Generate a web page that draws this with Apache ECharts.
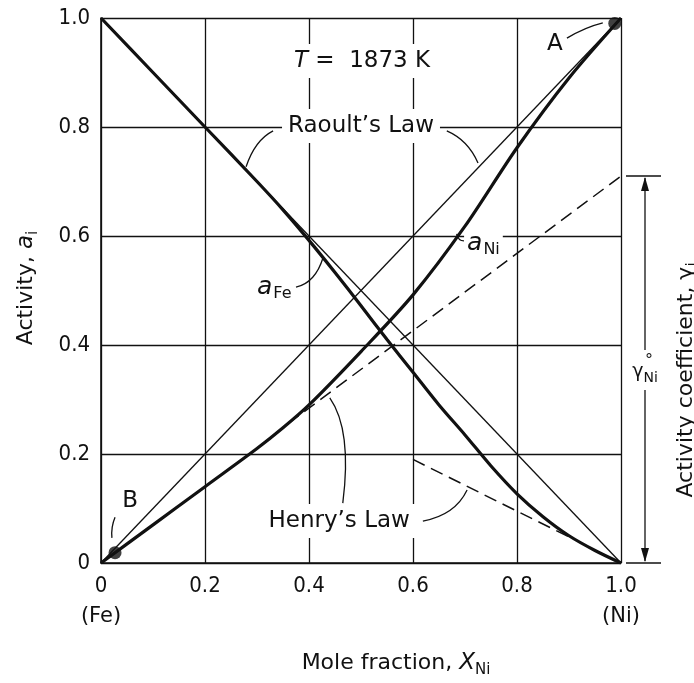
<!DOCTYPE html>
<html>
<head>
<meta charset="utf-8">
<script src="https://cdn.jsdelivr.net/npm/echarts@6/dist/echarts.min.js"></script>
<style>
  html, body { margin: 0; padding: 0; background: #fff; }
  #chart { width: 694px; height: 683px; }
</style>
</head>
<body>
<div id="chart"></div>
<script>
// Fe–Ni activities at 1873 K
const xTickLabels = ['0', '0.2', '0.4', '0.6', '0.8', '1.0'];
const yTickLabels = ['0', '0.2', '0.4', '0.6', '0.8', '1.0'];

// Raoult's law reference lines
const raoultFe = [[0, 1], [1, 0]];
const raoultNi = [[0, 0], [1, 1]];

// measured activities (x = X_Ni)
const activityFe = [[0, 1], [0.1, 0.9], [0.2, 0.8], [0.3, 0.7], [0.35, 0.648], [0.4, 0.592],
  [0.45, 0.533], [0.5, 0.472], [0.55, 0.41], [0.6, 0.35], [0.65, 0.29], [0.7, 0.235],
  [0.75, 0.178], [0.8, 0.127], [0.85, 0.085], [0.9, 0.05], [0.95, 0.023], [1, 0]];
const activityNi = [[0, 0], [0.1, 0.07], [0.2, 0.14], [0.3, 0.21], [0.35, 0.248], [0.4, 0.29],
  [0.5, 0.388], [0.6, 0.492], [0.7, 0.618], [0.8, 0.762], [0.9, 0.89], [1, 1]];

// Henry's law lines
const henryNi = [[0.36, 0.256], [1.0, 0.71]];
const henryFe = [[0.6, 0.19], [0.91, 0.043]];

// reference states A (pure Ni) and B (dilute Ni)
const pointA = [0.988, 0.99];
const pointB = [0.027, 0.019];

const INK = '#111';
const FONT = "'DejaVu Sans', sans-serif";
const TICK_FONT = "'Liberation Sans Narrow', 'DejaVu Sans Condensed', 'Liberation Sans', sans-serif";

const chart = echarts.init(document.getElementById('chart'), null, { renderer: 'canvas' });

const axisCommon = {
  type: 'value', min: 0, max: 1, interval: 0.2,
  axisLine: { show: true, lineStyle: { color: INK, width: 1.6 } },
  axisTick: { show: false },
  splitLine: { show: true, lineStyle: { color: INK, width: 1.3 } },
};

chart.setOption({
  animation: false,
  backgroundColor: '#fff',
  grid: { left: 101, right: 73, top: 18, bottom: 120 },
  xAxis: Object.assign({}, axisCommon, {
    axisLabel: { margin: 12, color: INK, fontSize: 22, fontFamily: TICK_FONT,
      formatter: (v) => xTickLabels[Math.round(v / 0.2)] }
  }),
  yAxis: Object.assign({}, axisCommon, {
    axisLabel: { margin: 11, color: INK, fontSize: 22, fontFamily: TICK_FONT,
      formatter: (v) => yTickLabels[Math.round(v / 0.2)] }
  }),
  series: [
    { type: 'line', data: raoultFe, symbol: 'none', lineStyle: { color: INK, width: 1.3 } },
    { type: 'line', data: raoultNi, symbol: 'none', lineStyle: { color: INK, width: 1.3 } },
    { type: 'line', data: activityFe, symbol: 'none', smooth: 0.3,
      lineStyle: { color: INK, width: 3.2 } },
    { type: 'line', data: activityNi, symbol: 'none', smooth: 0.3,
      lineStyle: { color: INK, width: 3.2 } },
    { type: 'line', data: henryNi, symbol: 'none', lineStyle: { color: INK, width: 1.5, type: [13, 7] } },
    { type: 'line', data: henryFe, symbol: 'none', lineStyle: { color: INK, width: 1.5, type: [13, 7] } },
    { type: 'scatter', data: [pointA, pointB], symbol: 'circle', symbolSize: 13,
      itemStyle: { color: INK }, z: 5 }
  ]
});

// ---- annotations ----
const ctx = document.createElement('canvas').getContext('2d');
function textWidth(t, font) { ctx.font = font; return ctx.measureText(t).width; }

// lays out text parts along one line (with sub/superscripts via dy)
function textRun(parts, x, y, opt) {
  opt = opt || {};
  let cur = 0;
  const kids = [];
  parts.forEach(p => {
    const font = (p.italic ? 'italic ' : '') + p.size + 'px ' + (p.family || FONT);
    const wdt = textWidth(p.t, font);
    kids.push({ type: 'text', x: cur + (p.dx || 0), y: p.dy || 0,
      style: { text: p.t, font: font, fill: INK, textAlign: 'left',
        textVerticalAlign: 'middle', verticalAlign: 'middle' } });
    cur += wdt + (p.dx || 0);
  });
  const W = cur;
  const shift = opt.align === 'left' ? 0 : (opt.align === 'right' ? -W : -W / 2);
  kids.forEach(k => { k.x += shift; });
  if (opt.bg) {
    const padX = opt.padX || 6, h = opt.bgH || 28;
    kids.unshift({ type: 'rect', shape: { x: shift - padX, y: -h / 2, width: W + 2 * padX, height: h },
      style: { fill: '#fff' } });
  }
  return { type: 'group', x: x, y: y, rotation: opt.rotation || 0, children: kids, z: 100 };
}

function P(pt) { return chart.convertToPixel({ gridIndex: 0 }, pt); }

function leader(a, c, b) {
  const p1 = P(a), pc = P(c), p2 = P(b);
  return { type: 'bezierCurve', z: 101,
    shape: { x1: p1[0], y1: p1[1], x2: p2[0], y2: p2[1], cpx1: pc[0], cpy1: pc[1] },
    style: { stroke: INK, lineWidth: 1.3, fill: null } };
}

function draw() {
  const g = [];
  const at = (pt) => P(pt);

  let p = at([0.502, 0.921]);
  g.push(textRun([{ t: 'T', size: 23, italic: true }, { t: ' =  1873 K', size: 23 }], p[0], p[1],
    { bg: true, bgH: 34, padX: 8 }));

  p = at([0.5, 0.802]);
  g.push(textRun([{ t: 'Raoult\u2019s Law', size: 23 }], p[0], p[1], { bg: true, bgH: 34, padX: 6 }));
  g.push(leader([0.331, 0.793], [0.296, 0.776], [0.279, 0.727]));
  g.push(leader([0.665, 0.793], [0.706, 0.776], [0.725, 0.734]));

  p = at([0.704, 0.587]);
  g.push(textRun([{ t: 'a', size: 25, italic: true }, { t: 'Ni', size: 16, dy: 7, dx: 1 }], p[0], p[1],
    { align: 'left', bg: true, bgH: 30, padX: 3 }));
  g.push(leader([0.698, 0.591], [0.687, 0.591], [0.684, 0.604]));

  p = at([0.3, 0.506]);
  g.push(textRun([{ t: 'a', size: 25, italic: true }, { t: 'Fe', size: 16, dy: 7, dx: 1 }], p[0], p[1],
    { align: 'left', bg: true, bgH: 30, padX: 3 }));
  g.push(leader([0.375, 0.506], [0.412, 0.514], [0.427, 0.56]));

  p = at([0.458, 0.077]);
  g.push(textRun([{ t: 'Henry\u2019s Law', size: 23 }], p[0], p[1], { bg: true, bgH: 34, padX: 6 }));
  g.push(leader([0.465, 0.11], [0.483, 0.244], [0.44, 0.303]));
  g.push(leader([0.619, 0.077], [0.681, 0.088], [0.704, 0.134]));

  p = at([0.873, 0.952]);
  g.push(textRun([{ t: 'A', size: 23 }], p[0], p[1]));
  g.push(leader([0.896, 0.963], [0.931, 0.983], [0.965, 0.991]));

  p = at([0.056, 0.114]);
  g.push(textRun([{ t: 'B', size: 23 }], p[0], p[1]));
  g.push(leader([0.027, 0.084], [0.019, 0.066], [0.021, 0.046]));

  // (Fe) / (Ni) end-member labels under the x axis
  const pFe = at([0, 0]), pNi = at([1, 0]);
  g.push(textRun([{ t: '(Fe)', size: 21 }], pFe[0], pFe[1] + 54));
  g.push(textRun([{ t: '(Ni)', size: 21 }], pNi[0], pNi[1] + 54));

  // axis titles
  g.push(textRun([{ t: 'Mole fraction, ', size: 22 }, { t: 'X', size: 23, italic: true },
    { t: 'Ni', size: 15, dy: 7 }], 396, 663));
  g.push(textRun([{ t: 'Activity, ', size: 22 }, { t: 'a', size: 23, italic: true },
    { t: 'i', size: 15, dy: 7 }], 26, 288, { rotation: Math.PI / 2 }));
  g.push(textRun([{ t: 'Activity coefficient, ', size: 22 }, { t: '\u03b3', size: 22 },
    { t: 'i', size: 15, dy: 7 }], 686, 380, { rotation: Math.PI / 2 }));

  // gamma-zero bracket at the right of the plot
  const top = at([1, henryNi[henryNi.length - 1][1]]);
  const bot = at([1, 0]);
  const bx = top[0] + 24;
  const barL = top[0] + 5, barR = top[0] + 40;
  const midY = 370;
  g.push({ type: 'line', z: 50, shape: { x1: barL, y1: top[1], x2: barR, y2: top[1] }, style: { stroke: INK, lineWidth: 1.6 } });
  g.push({ type: 'line', z: 50, shape: { x1: barL, y1: bot[1], x2: barR, y2: bot[1] }, style: { stroke: INK, lineWidth: 1.6 } });
  g.push({ type: 'line', z: 50, shape: { x1: bx, y1: top[1] + 2, x2: bx, y2: midY - 20 }, style: { stroke: INK, lineWidth: 1.3 } });
  g.push({ type: 'line', z: 50, shape: { x1: bx, y1: midY + 20, x2: bx, y2: bot[1] - 2 }, style: { stroke: INK, lineWidth: 1.3 } });
  g.push({ type: 'polygon', z: 50, shape: { points: [[bx, top[1] + 1], [bx - 4, top[1] + 15], [bx + 4, top[1] + 15]] }, style: { fill: INK } });
  g.push({ type: 'polygon', z: 50, shape: { points: [[bx, bot[1] - 1], [bx - 4, bot[1] - 15], [bx + 4, bot[1] - 15]] }, style: { fill: INK } });
  g.push(textRun([{ t: '\u03b3', size: 19 }, { t: 'Ni', size: 14, dy: 6 }], bx, midY + 2));
  g.push(textRun([{ t: '\u00b0', size: 16 }], bx + 4, midY - 9));

  chart.setOption({ graphic: { elements: g } });
}
draw();
</script>
</body>
</html>
